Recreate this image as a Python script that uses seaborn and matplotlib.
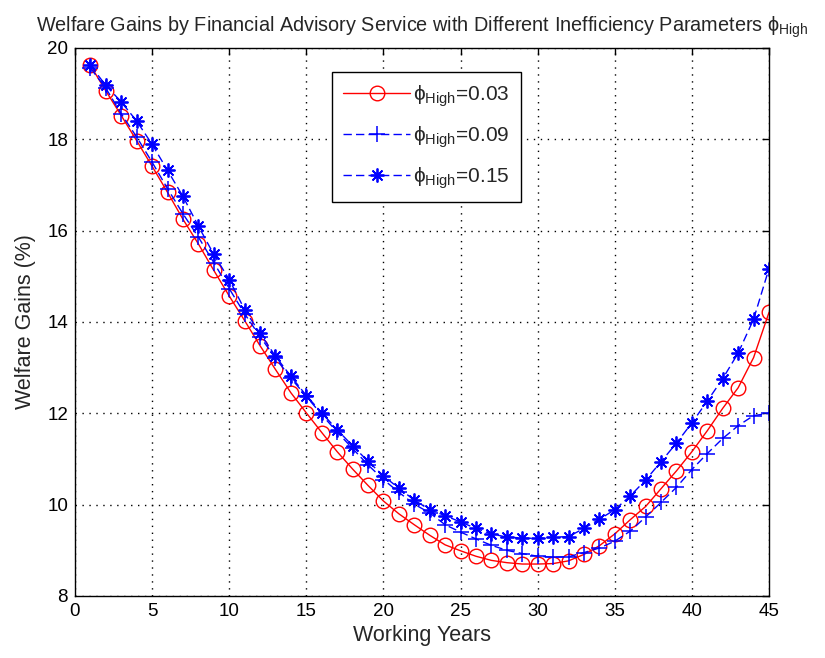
import numpy as np
import pandas as pd
import matplotlib
matplotlib.use("Agg")
import matplotlib.pyplot as plt
import seaborn as sns

years = list(range(1, 46))
gain_003 = [19.62, 19.06, 18.52, 17.97, 17.41, 16.84, 16.25, 15.71, 15.13, 14.57,
            14.03, 13.48, 12.96, 12.45, 12.01, 11.58, 11.16, 10.78, 10.42, 10.08,
            9.80, 9.56, 9.33, 9.12, 8.99, 8.87, 8.78, 8.73, 8.70, 8.70,
            8.71, 8.77, 8.91, 9.10, 9.36, 9.67, 9.96, 10.35, 10.74, 11.16,
            11.62, 12.11, 12.56, 13.22, 14.21]
gain_009 = [19.56, 19.12, 18.56, 18.05, 17.50, 16.92, 16.37, 15.86, 15.30, 14.73,
            14.18, 13.68, 13.21, 12.77, 12.37, 11.97, 11.59, 11.23, 10.87, 10.55,
            10.27, 10.01, 9.82, 9.56, 9.40, 9.25, 9.11, 9.00, 8.93, 8.87,
            8.85, 8.86, 8.95, 9.05, 9.20, 9.42, 9.73, 10.05, 10.38, 10.77,
            11.12, 11.45, 11.73, 11.95, 12.00]
gain_015 = [19.62, 19.18, 18.82, 18.40, 17.89, 17.32, 16.75, 16.10, 15.48, 14.93,
            14.27, 13.75, 13.25, 12.81, 12.39, 12.01, 11.64, 11.29, 10.95, 10.63,
            10.36, 10.10, 9.89, 9.76, 9.62, 9.48, 9.36, 9.29, 9.27, 9.26,
            9.29, 9.30, 9.48, 9.68, 9.89, 10.19, 10.54, 10.94, 11.35, 11.79,
            12.27, 12.76, 13.32, 14.06, 15.17]
labels = [r'$\phi_{\mathrm{High}}$=0.03', r'$\phi_{\mathrm{High}}$=0.09', r'$\phi_{\mathrm{High}}$=0.15']
x_ticks = [0, 5, 10, 15, 20, 25, 30, 35, 40, 45]
y_ticks = [8, 10, 12, 14, 16, 18, 20]

sns.set_style("white")
plt.rcParams['font.family'] = ['Liberation Sans', 'DejaVu Sans']
plt.rcParams['mathtext.fontset'] = 'custom'
plt.rcParams['mathtext.rm'] = 'Liberation Sans'
plt.rcParams['mathtext.it'] = 'Liberation Sans'
plt.rcParams['mathtext.default'] = 'rm'
plt.rcParams['font.size'] = 12

fig = plt.figure(figsize=(8.25, 6.58), dpi=100)
ax = fig.add_axes([75/825, 1-596/658, (769-75)/825, (596-48)/658])

styles = [
    dict(color='#ff0000', linestyle='-', marker='o', markersize=10.5, markerfacecolor='none',
         markeredgecolor='#ff0000', markeredgewidth=1.0),
    dict(color='#0000ff', linestyle=(0, (6, 3)), marker='+', markersize=11,
         markeredgecolor='#0000ff', markeredgewidth=1.1),
    dict(color='#0000ff', linestyle=(0, (6, 3)), marker=(8, 2, 0), markersize=10,
         markeredgecolor='#0000ff', markeredgewidth=1.3),
]
for vals, lab, st in zip([gain_003, gain_009, gain_015], labels, styles):
    df = pd.DataFrame({'x': years, 'y': vals})
    sns.lineplot(data=df, x='x', y='y', ax=ax, label=lab, linewidth=1.0, **st)

ax.set_xlim(0, 45)
ax.set_ylim(8, 20)
ax.set_xticks(x_ticks)
ax.set_yticks(y_ticks)
ax.grid(True, color='black', linestyle=(0, (1, 4)), linewidth=1.0)
ax.tick_params(direction='in', length=5, width=1, top=True, right=True, labelsize=13.5,
               colors='black', pad=5)
for s in ax.spines.values():
    s.set_visible(True)
    s.set_color('black')
    s.set_linewidth(1.0)

ax.set_xlabel('Working Years', fontsize=15.5, labelpad=4)
ax.set_ylabel('Welfare Gains (%)', fontsize=15.5, labelpad=8)
ax.set_title(r'Welfare Gains by Financial Advisory Service with Different Inefficiency Parameters $\phi_{\mathrm{High}}$',
             fontsize=14.3, pad=12)

leg = ax.legend(loc='upper left', bbox_to_anchor=(0.37, 0.957), fontsize=15, frameon=True,
                fancybox=False, framealpha=1, edgecolor='black', handlelength=3.2,
                borderpad=0.55, labelspacing=0.75, handletextpad=0.15, borderaxespad=0)
leg.get_frame().set_linewidth(1.0)

fig.savefig('out.png', dpi=100, facecolor='white')
